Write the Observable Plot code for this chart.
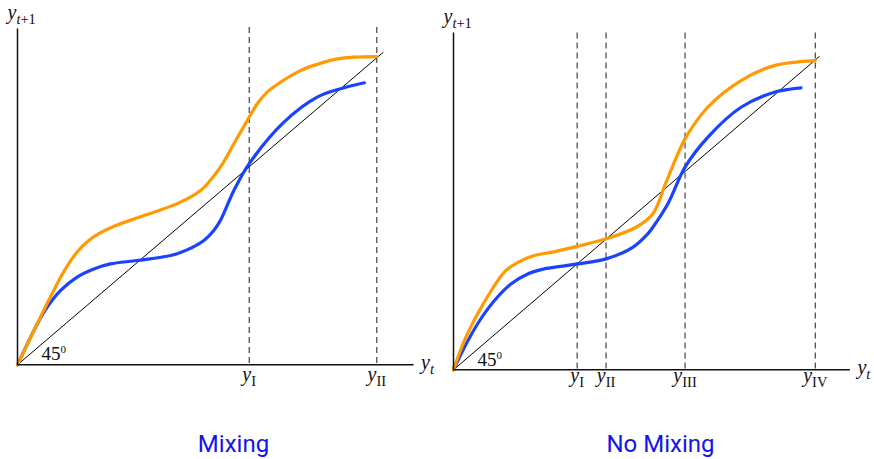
<!DOCTYPE html>
<html><head><meta charset="utf-8">
<script src="https://cdn.jsdelivr.net/npm/d3@7"></script>
<script src="https://cdn.jsdelivr.net/npm/@observablehq/plot@0.6"></script>
<style>
html,body{margin:0;padding:0;background:#fff}
body{width:874px;height:459px;position:relative;overflow:hidden}
.panel{position:absolute;top:0}
.title{position:absolute;top:432px;font-family:Roboto,"Noto Sans",sans-serif;font-size:24px;line-height:24px;color:#1414ee;transform:translateX(-50%);white-space:nowrap}
</style></head><body>
<div id="left" class="panel" style="left:0px"></div>
<div id="right" class="panel" style="left:435.5px"></div>
<div class="title" style="left:233.5px">Mixing</div>
<div class="title" style="left:660.5px">No Mixing</div>
<script>
// ---- Data ----
// Left panel: "Mixing"
const mixEquilibria = [0.634, 0.983];
const mixLabels = ["y_I", "y_II"];
const mixOrangeX = [0, 0.045, 0.099, 0.131, 0.163, 0.195, 0.227, 0.263, 0.346, 0.437, 0.501, 0.555, 0.592, 0.634, 0.656, 0.683, 0.720, 0.774, 0.820, 0.865, 0.920, 0.983];
const mixOrangeY = [0, 0.110, 0.238, 0.307, 0.361, 0.398, 0.423, 0.443, 0.478, 0.516, 0.558, 0.633, 0.708, 0.793, 0.836, 0.873, 0.905, 0.942, 0.962, 0.977, 0.985, 0.987];
const mixBlueX = [0, 0.054, 0.081, 0.118, 0.163, 0.209, 0.254, 0.327, 0.419, 0.464, 0.510, 0.537, 0.555, 0.592, 0.634, 0.729, 0.820, 0.884, 0.949];
const mixBlueY = [0, 0.131, 0.184, 0.238, 0.281, 0.307, 0.323, 0.334, 0.350, 0.368, 0.398, 0.430, 0.462, 0.558, 0.644, 0.777, 0.857, 0.884, 0.903];

// Right panel: "No Mixing"
const noMixEquilibria = [0.338, 0.417, 0.633, 0.989];
const noMixLabels = ["y_I", "y_II", "y_III", "y_IV"];
const noMixOrangeX = [0, 0.030, 0.066, 0.103, 0.139, 0.176, 0.221, 0.267, 0.338, 0.417, 0.499, 0.545, 0.581, 0.633, 0.695, 0.786, 0.877, 0.989];
const noMixOrangeY = [0, 0.094, 0.179, 0.252, 0.312, 0.343, 0.365, 0.375, 0.394, 0.418, 0.455, 0.498, 0.598, 0.737, 0.838, 0.923, 0.971, 0.987];
const noMixBlueX = [0, 0.030, 0.066, 0.112, 0.157, 0.203, 0.248, 0.293, 0.338, 0.417, 0.490, 0.531, 0.545, 0.586, 0.633, 0.695, 0.786, 0.877, 0.950];
const noMixBlueY = [0, 0.072, 0.147, 0.221, 0.274, 0.306, 0.322, 0.330, 0.338, 0.354, 0.391, 0.434, 0.455, 0.530, 0.647, 0.742, 0.838, 0.886, 0.900];

const diagonal = [0, 1];
const axisLabelX = "y_t";
const axisLabelY = "y_t+1";
const angleLabel = "45^0";

const ORANGE = "#ff9a00";
const BLUE = "#1a43ff";
const XMAX = 1.085, YMAX = 1.075;

function pts(xs, ys) { return xs.map((x, i) => ({x, y: ys[i]})); }

function addRuns(parent, str) {
  for (const r of str.match(/[a-z]+|[^a-z]+/g)) {
    parent.append("tspan").attr("font-style", /[a-z]/.test(r) ? "italic" : "normal").text(r);
  }
}
function formatMath(svg) {
  d3.select(svg).selectAll("text").each(function() {
    const s = this.textContent;
    const m = s.match(/^([^_^]+)([_^])(.+)$/);
    if (!m) return;
    const el = d3.select(this);
    el.text(null);
    addRuns(el, m[1]);
    const isSub = m[2] === "_";
    const small = el.append("tspan").attr("font-size", isSub ? 14.5 : 11).attr("dy", isSub ? 5 : -7);
    addRuns(small, m[3]);
  });
}

function panel(opts) {
  const {width, height, originX, originY, ux, uy, eq, labels, ox, oy, bx, by, tickDy, angleDy, dashTop} = opts;
  const mT = originY - YMAX * uy;
  const mB = height - originY;
  const mR = width - (originX + XMAX * ux);
  const serif = "Liberation Serif, Times New Roman, serif";
  const plot = Plot.plot({
    width, height,
    marginLeft: originX, marginRight: mR, marginTop: mT, marginBottom: mB,
    x: {domain: [0, XMAX], axis: null},
    y: {domain: [0, YMAX], axis: null},
    marks: [
      Plot.ruleX(eq, {x: d => d, y1: dashTop, y2: 0, stroke: "#333", strokeWidth: 1.1, strokeDasharray: "6,4"}),
      Plot.line(pts(diagonal, diagonal), {x: "x", y: "y", stroke: "#000", strokeWidth: 1}),
      Plot.line(pts(bx, by), {x: "x", y: "y", stroke: BLUE, strokeWidth: 3.2, curve: "catmull-rom"}),
      Plot.line(pts(ox, oy), {x: "x", y: "y", stroke: ORANGE, strokeWidth: 3.2, curve: "catmull-rom"}),
      Plot.ruleX([0], {y1: 0, y2: YMAX, stroke: "#111", strokeWidth: 1.5}),
      Plot.ruleY([0], {x1: 0, x2: XMAX, stroke: "#111", strokeWidth: 1.5}),
      Plot.text(eq, {x: d => d, y: 0, text: (d, i) => labels[i], dy: tickDy, lineAnchor: "bottom", textAnchor: "middle", fontFamily: serif, fontSize: 20, fill: "#111"}),
      Plot.text([axisLabelX], {x: XMAX, y: 0, text: d => d, dx: 7, dy: 4, lineAnchor: "bottom", textAnchor: "start", fontFamily: serif, fontSize: 20, fill: "#111"}),
      Plot.text([axisLabelY], {x: 0, y: YMAX, text: d => d, dx: -10, dy: -10, lineAnchor: "bottom", textAnchor: "start", fontFamily: serif, fontSize: 20, fill: "#111"}),
      Plot.text([angleLabel], {x: 0, y: 0, text: d => d, dx: 24, dy: angleDy, lineAnchor: "bottom", textAnchor: "start", fontFamily: serif, fontSize: 19, fill: "#111"})
    ]
  });
  formatMath(plot);
  return plot;
}

document.getElementById("left").appendChild(panel({
  width: 437, height: 400, originX: 17, originY: 364.3, ux: 365.5, uy: 312.3,
  eq: mixEquilibria, labels: mixLabels,
  ox: mixOrangeX, oy: mixOrangeY, bx: mixBlueX, by: mixBlueY,
  tickDy: 16.5, angleDy: -5, dashTop: 1.08
}));
document.getElementById("right").appendChild(panel({
  width: 438.5, height: 400, originX: 17, originY: 369.3, ux: 365.8, uy: 313.3,
  eq: noMixEquilibria, labels: noMixLabels,
  ox: noMixOrangeX, oy: noMixOrangeY, bx: noMixBlueX, by: noMixBlueY,
  tickDy: 12, angleDy: -4, dashTop: 1.075
}));
</script>
</body></html>
